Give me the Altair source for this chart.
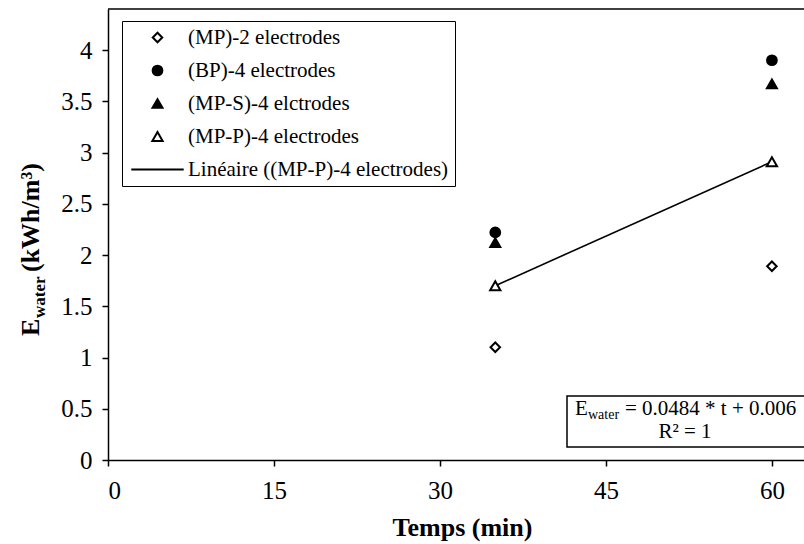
import altair as alt
import pandas as pd

# ---- data ----
times = [35, 60]
mp2 = [1.10, 1.89]
bp4 = [2.22, 3.90]
mps4 = [2.12, 3.67]
mpp4 = [1.70, 2.91]
series_names = [
    "(MP)-2 electrodes",
    "(BP)-4 electrodes",
    "(MP-S)-4 elctrodes",
    "(MP-P)-4 electrodes",
    "Linéaire ((MP-P)-4 electrodes)",
]
fit_slope = 0.0484
fit_intercept = 0.006
fit_r2 = 1
x_ticks = [0, 15, 30, 45, 60]
y_ticks = [0, 0.5, 1, 1.5, 2, 2.5, 3, 3.5, 4]

FONT = "Liberation Serif"
W, H = 696, 451

rows = []
for name, vals in zip(series_names[:4], [mp2, bp4, mps4, mpp4]):
    for t, v in zip(times, vals):
        rows.append({"t": t, "E": v, "series": name})
pts = pd.DataFrame(rows)
fit = pd.DataFrame({"t": times, "E": [fit_slope * t + fit_intercept for t in times]})
one = pd.DataFrame({"a": [0]})

xenc = alt.X("t:Q", scale=alt.Scale(domain=[0, 62.9], nice=False, zero=False),
             axis=alt.Axis(values=x_ticks, title="Temps (min)", labelPadding=12,
                           labelFont=FONT, titleFont=FONT,
                           titleX=354, titleY=75, titleBaseline="alphabetic",
                           titleAnchor="start", titleAlign="center"))
yenc = alt.Y("E:Q", scale=alt.Scale(domain=[0, 4.4], nice=False),
             axis=alt.Axis(values=y_ticks, title=None, format="~g", labelPadding=10,
                           labelFont=FONT))

leg = alt.Legend(title=None, orient="none", legendX=14, legendY=12,
                 strokeColor="black", fillColor="white", padding=6,
                 labelFont=FONT, labelFontSize=21, labelColor="black", labelLimit=500,
                 symbolStrokeColor="black", symbolStrokeWidth=2, symbolOpacity=1,
                 rowPadding=11, symbolOffset=19, labelOffset=20)

points = alt.Chart(pts).mark_point(stroke="black", strokeWidth=2, opacity=1).encode(
    x=xenc, y=yenc,
    shape=alt.Shape("series:N", scale=alt.Scale(
        domain=series_names,
        range=["diamond", "circle", "triangle-up", "triangle-up", "M-5,0H5"]), legend=leg),
    fill=alt.Fill("series:N", scale=alt.Scale(
        domain=series_names,
        range=["white", "black", "black", "white", "transparent"]), legend=leg),
    stroke=alt.Stroke("series:N", scale=alt.Scale(
        domain=series_names,
        range=["black", "black", "black", "black", "black"]), legend=leg),
    size=alt.Size("series:N", scale=alt.Scale(
        domain=series_names, range=[90, 110, 110, 95, 100]), legend=leg),
)

line = alt.Chart(fit).mark_line(color="black", strokeWidth=1.6).encode(x="t:Q", y="E:Q")

top_rule = alt.Chart(one).mark_rule(color="black", strokeWidth=1.5).encode(
    x=alt.value(0), x2=alt.value(W), y=alt.value(0))

# y axis title pieces (rotated)
ytitle = [
    ("E", 26, -69, 327),
    ("water", 17, -63, 309),
    ("(kWh/m³)", 26, -69, 263),
]
ylayers = [
    alt.Chart(one).mark_text(text=s, font=FONT, fontSize=fs, fontWeight="bold", angle=270,
                             align="left", baseline="alphabetic", color="black").encode(
        x=alt.value(xx), y=alt.value(yy))
    for s, fs, xx, yy in ytitle
]

# equation box
eq_box = alt.Chart(one).mark_rect(fill="white", stroke="black", strokeWidth=1.5).encode(
    x=alt.value(459), x2=alt.value(700), y=alt.value(387), y2=alt.value(438))
eq_parts = [
    ("E", 21, 467, 406, "left"),
    ("water", 14, 480, 410, "left"),
    (f"= {fit_slope} * t + {fit_intercept}", 21, 517, 406, "left"),
    (f"R² = {fit_r2}", 21, 577, 429, "center"),
]
eq_layers = [
    alt.Chart(one).mark_text(text=s, font=FONT, fontSize=fs, align=al, baseline="alphabetic",
                             color="black").encode(x=alt.value(xx), y=alt.value(yy))
    for s, fs, xx, yy, al in eq_parts
]

chart = alt.layer(line, points, top_rule, *ylayers, eq_box, *eq_layers).properties(
    width=W, height=H,
    autosize=alt.AutoSizeParams(type="none"),
    padding={"left": 108, "top": 9, "right": 0, "bottom": 84},
    background="white",
).configure(font=FONT).configure_view(stroke=None).configure_axis(
    domainColor="black", domainWidth=1.5, tickColor="black", tickWidth=1.5, tickSize=6,
    labelFont=FONT, labelFontSize=25, labelColor="black", grid=False,
    titleFont=FONT, titleFontSize=26, titleFontWeight="bold", titleColor="black",
).configure_legend(labelFont=FONT)

chart.save("out.html", embed_options={"renderer": "svg", "actions": False})
